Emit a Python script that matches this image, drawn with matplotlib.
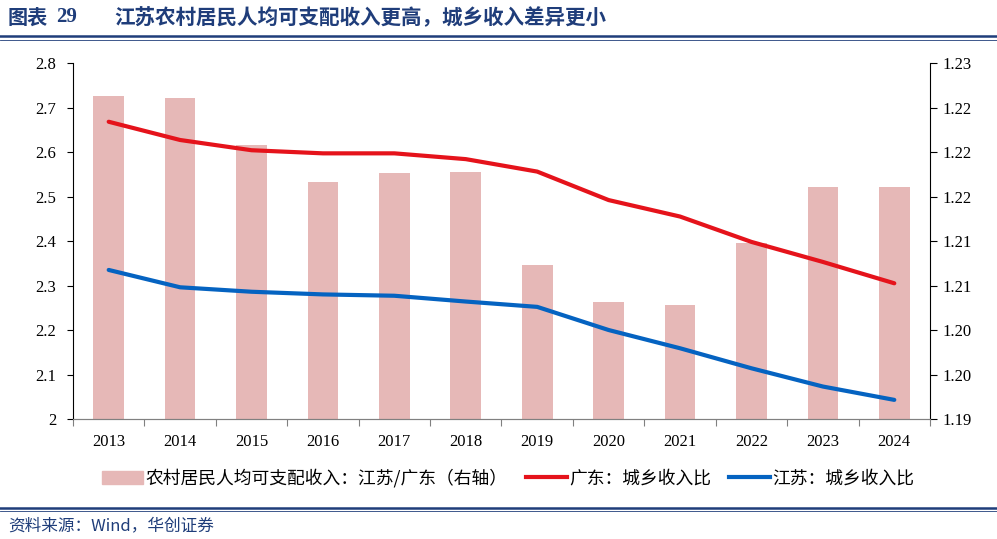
import numpy as np
import matplotlib
matplotlib.use("Agg")
import matplotlib.pyplot as plt
from matplotlib.lines import Line2D
from matplotlib.patches import Patch

plt.rcParams['font.family'] = ['Noto Sans CJK SC', 'DejaVu Sans']

# 数据
years = ['2013', '2014', '2015', '2016', '2017', '2018',
         '2019', '2020', '2021', '2022', '2023', '2024']
ingreso_ratio = [1.2263, 1.2261, 1.2208, 1.2166, 1.2176, 1.2177,
                 1.2073, 1.2031, 1.2028, 1.2098, 1.2161, 1.2161]
guangdong = [2.668, 2.627, 2.604, 2.597, 2.597, 2.584,
             2.556, 2.492, 2.455, 2.398, 2.353, 2.305]
jiangsu = [2.335, 2.296, 2.286, 2.280, 2.277, 2.264,
           2.252, 2.200, 2.159, 2.114, 2.073, 2.043]
left_ticks = [2.0, 2.1, 2.2, 2.3, 2.4, 2.5, 2.6, 2.7, 2.8]
left_labels = ['2', '2.1', '2.2', '2.3', '2.4', '2.5', '2.6', '2.7', '2.8']
right_ticks = [1.19, 1.195, 1.20, 1.205, 1.21, 1.215, 1.22, 1.225, 1.23]
right_labels = ['1.19', '1.20', '1.20', '1.21', '1.21', '1.22', '1.22', '1.22', '1.23']

bar_color = '#E6B8B7'
red = '#E5131B'
blue = '#0563C1'
navy = '#1F3D7A'
serif = ['Liberation Serif', 'DejaVu Serif']

fig = plt.figure(figsize=(9.97, 5.39), dpi=100)
ax = fig.add_axes([0.0732, 0.2226, 0.8596, 0.6605])
ax2 = ax.twinx()

x = np.arange(len(years))
ax2.bar(x, ingreso_ratio, width=0.43, color=bar_color, zorder=1)
ax2.set_ylim(1.19, 1.23)
ax2.set_yticks(right_ticks)
ax2.set_yticklabels(right_labels, family=serif, fontsize=12)

ax.set_zorder(ax2.get_zorder() + 1)
ax.patch.set_visible(False)
ax.plot(x, guangdong, color=red, lw=3, solid_capstyle='round')
ax.plot(x, jiangsu, color=blue, lw=3, solid_capstyle='round')
ax.set_ylim(2.0, 2.8)
ax.set_yticks(left_ticks)
ax.set_yticklabels(left_labels, family=serif, fontsize=12)
ax.set_xlim(-0.5, len(years) - 0.5)
ax.set_xticks(np.arange(len(years) + 1) - 0.5)
ax.set_xticklabels([])
ax.set_xticks(x, minor=True)
ax.set_xticklabels(years, minor=True, family=serif, fontsize=12)
ax.tick_params(axis='x', which='minor', length=0, pad=11)
ax.tick_params(axis='x', which='major', length=5, color='#808080')
ax.tick_params(axis='y', length=4, pad=8)
ax2.tick_params(axis='y', length=5, pad=4)

for a in (ax, ax2):
    a.spines['top'].set_visible(False)
    a.spines['bottom'].set_color('#808080')
ax2.spines['left'].set_visible(False)
ax.spines['right'].set_visible(False)

handles = [Patch(color=bar_color),
           Line2D([0], [0], color=red, lw=3),
           Line2D([0], [0], color=blue, lw=3)]
labels = ['农村居民人均可支配收入：江苏/广东（右轴）', '广东：城乡收入比', '江苏：城乡收入比']
fig.legend(handles, labels, loc='center', bbox_to_anchor=(0.51, 0.113), ncol=3,
           frameon=False, fontsize=12.8, handlelength=2.3, handletextpad=0.15,
           columnspacing=1.0)

fig.text(0.008, 0.968, '图表', fontsize=14.5, fontweight='bold', color=navy, va='center')
fig.text(0.056, 0.968, '29', fontsize=15, fontweight='bold', color=navy, va='center',
         family=serif)
fig.text(0.115, 0.968, '江苏农村居民人均可支配收入更高，城乡收入差异更小',
         fontsize=14.8, fontweight='bold', color=navy, va='center')
fig.add_artist(Line2D([0.0, 1.0], [0.933, 0.933], color=navy, lw=1.8))
fig.add_artist(Line2D([0.0, 1.0], [0.926, 0.926], color=navy, lw=0.6))
fig.add_artist(Line2D([0.0, 1.0], [0.058, 0.058], color=navy, lw=1.8))
fig.add_artist(Line2D([0.0, 1.0], [0.052, 0.052], color=navy, lw=0.6))
fig.text(0.008, 0.025, '资料来源：Wind，华创证券', fontsize=12, style='italic',
         color=navy, va='center')

fig.savefig('out.png', dpi=100)
